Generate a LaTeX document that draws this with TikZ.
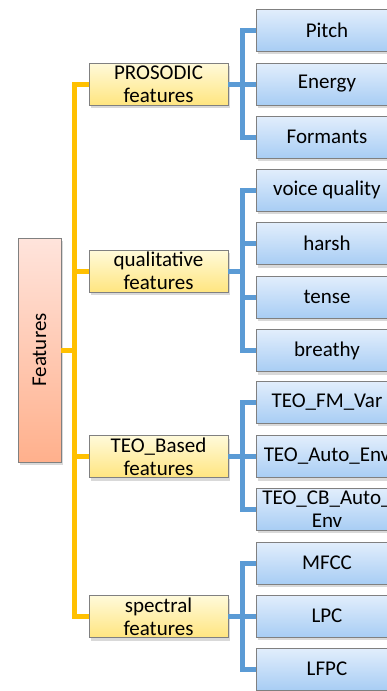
\documentclass[tikz,border=0pt]{standalone}
\usepackage{fontspec}
\setmainfont{Carlito}
\usetikzlibrary{shadows}
\definecolor{Trunk}{RGB}{255, 192, 0}
\definecolor{Twig}{RGB}{91, 155, 213}
\definecolor{Rim}{RGB}{128, 128, 128}
\definecolor{RootTop}{RGB}{255, 228, 220}
\definecolor{RootBot}{RGB}{255, 176, 140}
\definecolor{GroupTop}{RGB}{255, 250, 218}
\definecolor{GroupBot}{RGB}{255, 229, 128}
\definecolor{LeafTop}{RGB}{226, 238, 252}
\definecolor{LeafBot}{RGB}{168, 205, 244}

\begin{document}
\begin{tikzpicture}[x=1pt, y=-1pt,
    box/.style={draw=Rim, line width=0.8pt, inner sep=0pt, align=center,
        font=\fontsize{21}{23}\selectfont,
        drop shadow={shadow xshift=2pt, shadow yshift=-3pt, opacity=0.3}},
    root/.style={box, minimum width=43pt, minimum height=224pt,
        top color=RootTop, bottom color=RootBot},
    group/.style={box, minimum width=139pt, minimum height=42pt,
        top color=GroupTop, bottom color=GroupBot},
    leaf/.style={box, minimum width=142pt, minimum height=42pt,
        top color=LeafTop, bottom color=LeafBot},
    trunk/.style={draw=Trunk, line width=5pt},
    twig/.style={draw=Twig, line width=5pt}]
    \useasboundingbox (0,0) rectangle (387,691);
    \clip (0,0) rectangle (387,691);
    % Root
    \node[root] (feat) at (39.5,350) {\rotatebox{90}{Features}};
    % Feature groups
    \node[group] (prosodic) at (158.5,84) {PROSODIC\\features};
    \node[group] (qualitative) at (158.5,271) {qualitative\\features};
    \node[group] (teo) at (158.5,456.5) {TEO\_Based\\features};
    \node[group] (spectral) at (158.5,616.5) {spectral\\features};
    % Leaves
    \node[leaf] (pitch) at (327,30) {Pitch};
    \node[leaf] (energy) at (327,84) {Energy};
    \node[leaf] (formants) at (327,137) {Formants};
    \node[leaf] (voiceq) at (327,190) {voice quality};
    \node[leaf] (harsh) at (327,243.5) {harsh};
    \node[leaf] (tense) at (327,297) {tense};
    \node[leaf] (breathy) at (327,350.5) {breathy};
    \node[leaf] (fmvar) at (327,402) {TEO\_FM\_Var};
    \node[leaf] (autoenv) at (327,456.5) {TEO\_Auto\_Env};
    \node[leaf] (cbenv) at (327,509) {TEO\_CB\_Auto\_\\Env};
    \node[leaf] (mfcc) at (327,563) {MFCC};
    \node[leaf] (lpc) at (327,616) {LPC};
    \node[leaf] (lfpc) at (327,669) {LFPC};
    % Trunk
    \draw[trunk] (prosodic.west) -- ++(-14,0) |- (spectral.west);
    \draw[trunk] (qualitative.west) -- ++(-14,0);
    \draw[trunk] (teo.west) -- ++(-14,0);
    \draw[trunk] (feat.east) -- ++(14,0);
    % Twigs
    \draw[twig] (prosodic.east) -- ++(15,0);
    \draw[twig] (pitch.west) -- ++(-13,0) |- (formants.west);
    \draw[twig] (energy.west) -- ++(-13,0);
    \draw[twig] (qualitative.east) -- ++(15,0);
    \draw[twig] (voiceq.west) -- ++(-13,0) |- (breathy.west);
    \draw[twig] (harsh.west) -- ++(-13,0);
    \draw[twig] (tense.west) -- ++(-13,0);
    \draw[twig] (teo.east) -- ++(15,0);
    \draw[twig] (fmvar.west) -- ++(-13,0) |- (cbenv.west);
    \draw[twig] (autoenv.west) -- ++(-13,0);
    \draw[twig] (spectral.east) -- ++(15,0);
    \draw[twig] (mfcc.west) -- ++(-13,0) |- (lfpc.west);
    \draw[twig] (lpc.west) -- ++(-13,0);
\end{tikzpicture}
\end{document}
